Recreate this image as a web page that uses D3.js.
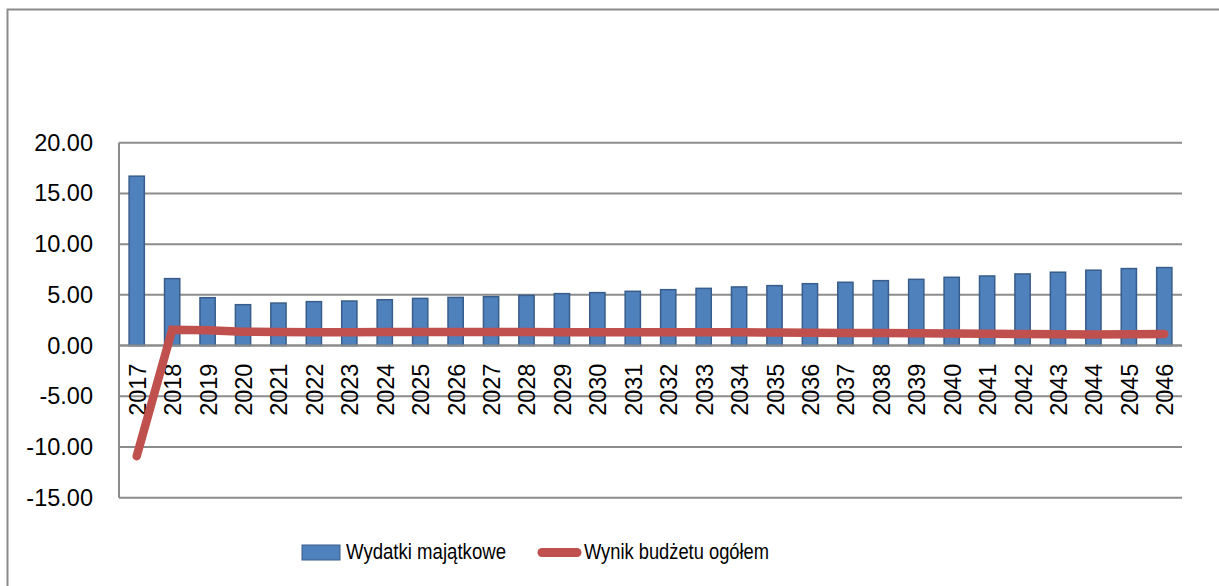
<!DOCTYPE html>
<html>
<head>
<meta charset="utf-8">
<script src="https://cdn.jsdelivr.net/npm/d3@7"></script>
<style>
  html, body { margin: 0; padding: 0; background: #fff; }
  svg { display: block; }
  text { font-family: "Liberation Sans", Arial, sans-serif; fill: #000; }
</style>
</head>
<body>
<svg id="chart" width="1219" height="586"></svg>
<script>
// Years on the category axis
const years = ["2017","2018","2019","2020","2021","2022","2023","2024","2025","2026",
               "2027","2028","2029","2030","2031","2032","2033","2034","2035","2036",
               "2037","2038","2039","2040","2041","2042","2043","2044","2045","2046"];

// Capital expenditure (bars)
const wydatkiMajatkowe = [16.7, 6.6, 4.72, 4.03, 4.19, 4.33, 4.39, 4.52, 4.65, 4.75,
                          4.82, 4.95, 5.12, 5.22, 5.35, 5.51, 5.64, 5.78, 5.91, 6.10,
                          6.24, 6.40, 6.53, 6.73, 6.86, 7.06, 7.23, 7.43, 7.59, 7.69];

// Overall budget result (line)
const wynikBudzetu = [-10.9, 1.55, 1.5, 1.36, 1.33, 1.32, 1.32, 1.33, 1.33, 1.33,
                      1.33, 1.33, 1.32, 1.32, 1.31, 1.31, 1.30, 1.30, 1.29, 1.27,
                      1.25, 1.23, 1.21, 1.19, 1.17, 1.14, 1.11, 1.09, 1.12, 1.14];

// Value axis ticks
const yTicks = [-15, -10, -5, 0, 5, 10, 15, 20];

const seriesNames = ["Wydatki majątkowe", "Wynik budżetu ogółem"];

// Number format with a plain hyphen for negatives
const locale = d3.formatLocale({ decimal: ".", thousands: "", grouping: [3], currency: ["", ""], minus: "-" });
const fmt = locale.format(".2f");

const svg = d3.select("#chart");

// Outer chart frame
svg.append("rect")
  .attr("x", 7.5).attr("y", 9.5)
  .attr("width", 1400).attr("height", 800)
  .attr("fill", "none")
  .attr("stroke", "#8a8a8a")
  .attr("stroke-width", 2);

const plot = { left: 119, right: 1182, top: 142.7, bottom: 497.7 };

const x = d3.scaleBand().domain(years).range([plot.left, plot.right]).padding(0);
const y = d3.scaleLinear().domain([-15, 20]).range([plot.bottom, plot.top]);

// Horizontal gridlines
svg.append("g")
  .selectAll("line")
  .data(yTicks)
  .join("line")
  .attr("x1", plot.left).attr("x2", plot.right)
  .attr("y1", d => y(d)).attr("y2", d => y(d))
  .attr("stroke", "#8c8c8c")
  .attr("stroke-width", 2);

// Vertical value axis line
svg.append("line")
  .attr("x1", plot.left).attr("x2", plot.left)
  .attr("y1", y(20)).attr("y2", y(-15))
  .attr("stroke", "#8c8c8c")
  .attr("stroke-width", 2);

// Value axis labels
const yAxis = d3.axisLeft(y).tickValues(yTicks).tickFormat(fmt).tickSize(0).tickPadding(26);
const yAxisG = svg.append("g")
  .attr("transform", `translate(${plot.left},0)`)
  .call(yAxis);
yAxisG.select(".domain").remove();
yAxisG.selectAll("text")
  .attr("font-family", "Liberation Sans, Arial, sans-serif")
  .attr("font-size", 23.5)
  .attr("fill", "#000");

// Bars
const barW = x.bandwidth() * 0.43;
svg.append("g")
  .selectAll("rect")
  .data(years)
  .join("rect")
  .attr("x", d => x(d) + x.bandwidth() / 2 - barW / 2)
  .attr("width", barW)
  .attr("y", (d, i) => y(Math.max(0, wydatkiMajatkowe[i])))
  .attr("height", (d, i) => Math.abs(y(wydatkiMajatkowe[i]) - y(0)))
  .attr("fill", "#4f81bd")
  .attr("stroke", "#385d8a")
  .attr("stroke-width", 1.5);

// Redraw zero line above the bars
svg.append("line")
  .attr("x1", plot.left).attr("x2", plot.right)
  .attr("y1", y(0)).attr("y2", y(0))
  .attr("stroke", "#8c8c8c")
  .attr("stroke-width", 2);

// Category labels, rotated, hanging below the zero line
const xAxis = d3.axisBottom(x).tickSize(0).tickPadding(0);
const xAxisG = svg.append("g")
  .attr("transform", `translate(0,${y(0)})`)
  .call(xAxis);
xAxisG.select(".domain").remove();
xAxisG.selectAll("text")
  .attr("font-family", "Liberation Sans, Arial, sans-serif")
  .attr("font-size", 23.5)
  .attr("fill", "#000")
  .attr("text-anchor", "end")
  .attr("dy", null)
  .attr("y", 0)
  .attr("dominant-baseline", "central")
  .attr("transform", "translate(1,18) rotate(-90)");

// Budget result line
const line = d3.line()
  .x((d, i) => x(years[i]) + x.bandwidth() / 2)
  .y(d => y(d));

svg.append("path")
  .datum(wynikBudzetu)
  .attr("d", line)
  .attr("fill", "none")
  .attr("stroke", "#c0504d")
  .attr("stroke-width", 8.5)
  .attr("stroke-linecap", "round")
  .attr("stroke-linejoin", "miter");

// Legend
const legend = svg.append("g");
legend.append("rect")
  .attr("x", 302).attr("y", 545)
  .attr("width", 38).attr("height", 15)
  .attr("fill", "#4f81bd")
  .attr("stroke", "#385d8a")
  .attr("stroke-width", 1);
legend.append("text")
  .attr("x", 346).attr("y", 559)
  .attr("font-size", 22)
  .attr("textLength", 160)
  .attr("lengthAdjust", "spacingAndGlyphs")
  .text(seriesNames[0]);
legend.append("line")
  .attr("x1", 542).attr("x2", 577)
  .attr("y1", 552.5).attr("y2", 552.5)
  .attr("stroke", "#c0504d")
  .attr("stroke-width", 9)
  .attr("stroke-linecap", "round");
legend.append("text")
  .attr("x", 584).attr("y", 559)
  .attr("font-size", 22)
  .attr("textLength", 185)
  .attr("lengthAdjust", "spacingAndGlyphs")
  .text(seriesNames[1]);
</script>
</body>
</html>
